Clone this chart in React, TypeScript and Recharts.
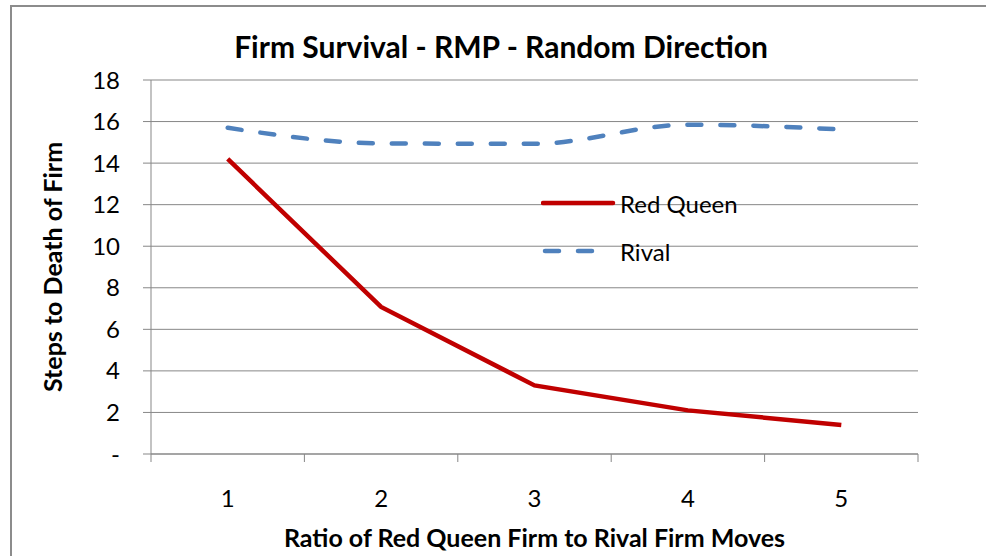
import { LineChart, Line, XAxis, YAxis, CartesianGrid, Legend } from 'recharts';

const ratios = ['1', '2', '3', '4', '5'];
const redQueen = [14.2, 7.08, 3.3, 2.1, 1.4];
const rival = [15.7, 14.95, 14.93, 15.85, 15.62];
const yTicks = [0, 2, 4, 6, 8, 10, 12, 14, 16, 18];

const data = ratios.map((r, i) => ({ ratio: r, redQueen: redQueen[i], rival: rival[i] }));

const FONT = 'Lato, "Open Sans", sans-serif';
const GRID = '#878787';
const RED = '#c00000';
const BLUE = '#4f81bd';

/** Category tick: label in band centre, tick marks on band edges (Excel style) */
const XTick = (props: any) => {
  const { x, y, payload, index, visibleTicksCount, width } = props;
  const band = (width ?? 767) / visibleTicksCount;
  const left = x - band / 2;
  return (
    <g>
      <line x1={left} x2={left} y1={y} y2={y + 8} stroke={GRID} />
      {index === visibleTicksCount - 1 && (
        <line x1={x + band / 2} x2={x + band / 2} y1={y} y2={y + 8} stroke={GRID} />
      )}
      <text x={x} y={y + 43} textAnchor="middle" dominantBaseline="central" fontSize={24} fill="#000">
        {payload.value}
      </text>
    </g>
  );
};

const YTitle = (props: any) => {
  const { x, y, height } = props.viewBox;
  const cx = x + 32;
  const cy = y + height / 2;
  return (
    <text
      x={cx}
      y={cy}
      transform={`rotate(-90, ${cx}, ${cy})`}
      textAnchor="middle"
      dominantBaseline="central"
      fontSize={25}
      fontWeight="bold"
      fill="#000"
    >
      Steps to Death of Firm
    </text>
  );
};

const XTitle = (props: any) => {
  const { x, y, width } = props.viewBox;
  return (
    <text
      x={x + width / 2}
      y={y + 83}
      textAnchor="middle"
      dominantBaseline="central"
      fontSize={25}
      fontWeight="bold"
      fill="#000"
    >
      Ratio of Red Queen Firm to Rival Firm Moves
    </text>
  );
};

const LegendBox = () => (
  <div style={{ fontFamily: FONT, fontSize: 24, color: '#000' }}>
    <div style={{ display: 'flex', alignItems: 'center', height: 48 }}>
      <svg width={79} height={10}>
        <line x1={2} x2={72} y1={5} y2={5} stroke={RED} strokeWidth={4.5} strokeLinecap="round" />
      </svg>
      <span>Red Queen</span>
    </div>
    <div style={{ display: 'flex', alignItems: 'center', height: 48 }}>
      <svg width={79} height={10}>
        <line
          x1={4}
          x2={56}
          y1={5}
          y2={5}
          stroke={BLUE}
          strokeWidth={4.5}
          strokeLinecap="round"
          strokeDasharray="14 19"
        />
      </svg>
      <span>Rival</span>
    </div>
  </div>
);

export default function App() {
  return (
    <div
      style={{
        position: 'absolute',
        left: 0,
        top: 0,
        width: 986,
        height: 556,
        overflow: 'hidden',
        background: '#fff',
        fontFamily: FONT,
      }}
    >
      <div
        style={{
          position: 'absolute',
          left: 10,
          top: 5,
          width: 990,
          height: 570,
          borderTop: '2px solid #8c8c8c',
          borderLeft: '2px solid #8c8c8c',
        }}
      />
      <div
        style={{
          position: 'absolute',
          left: 0,
          width: 1002,
          top: 26,
          textAlign: 'center',
          fontSize: 30,
          fontWeight: 'bold',
          lineHeight: '40px',
        }}
      >
        Firm Survival - RMP - Random Direction
      </div>
      <LineChart
        width={986}
        height={556}
        data={data}
        margin={{ top: 80, right: 68, left: 20, bottom: 0 }}
        style={{ position: 'absolute', left: 0, top: 0, fontFamily: FONT }}
      >
        <CartesianGrid vertical={false} stroke={GRID} strokeWidth={1} />
        <XAxis
          dataKey="ratio"
          scale="band"
          height={102}
          axisLine={{ stroke: GRID }}
          tickLine={false}
          tickSize={0}
          tickMargin={0}
          tick={<XTick />}
          interval={0}
          label={{ content: <XTitle /> }}
        />
        <YAxis
          width={131}
          domain={[0, 18]}
          ticks={yTicks}
          interval={0}
          axisLine={{ stroke: GRID }}
          tickLine={{ stroke: GRID }}
          tickSize={8}
          tickMargin={23}
          tick={{ fontSize: 24, fill: '#000' }}
          tickFormatter={(v: number) => (v === 0 ? '-' : String(v))}
          label={{ content: <YTitle /> }}
        />
        <Legend
          layout="vertical"
          align="center"
          verticalAlign="middle"
          content={<LegendBox />}
          wrapperStyle={{ position: 'absolute', left: 541, top: 179, width: 260 }}
        />
        <Line
          dataKey="redQueen"
          name="Red Queen"
          type="linear"
          stroke={RED}
          strokeWidth={4.5}
          dot={false}
          isAnimationActive={false}
        />
        <Line
          dataKey="rival"
          name="Rival"
          type="monotone"
          stroke={BLUE}
          strokeWidth={4.5}
          strokeLinecap="round"
          strokeDasharray="14 19"
          dot={false}
          isAnimationActive={false}
        />
      </LineChart>
    </div>
  );
}
